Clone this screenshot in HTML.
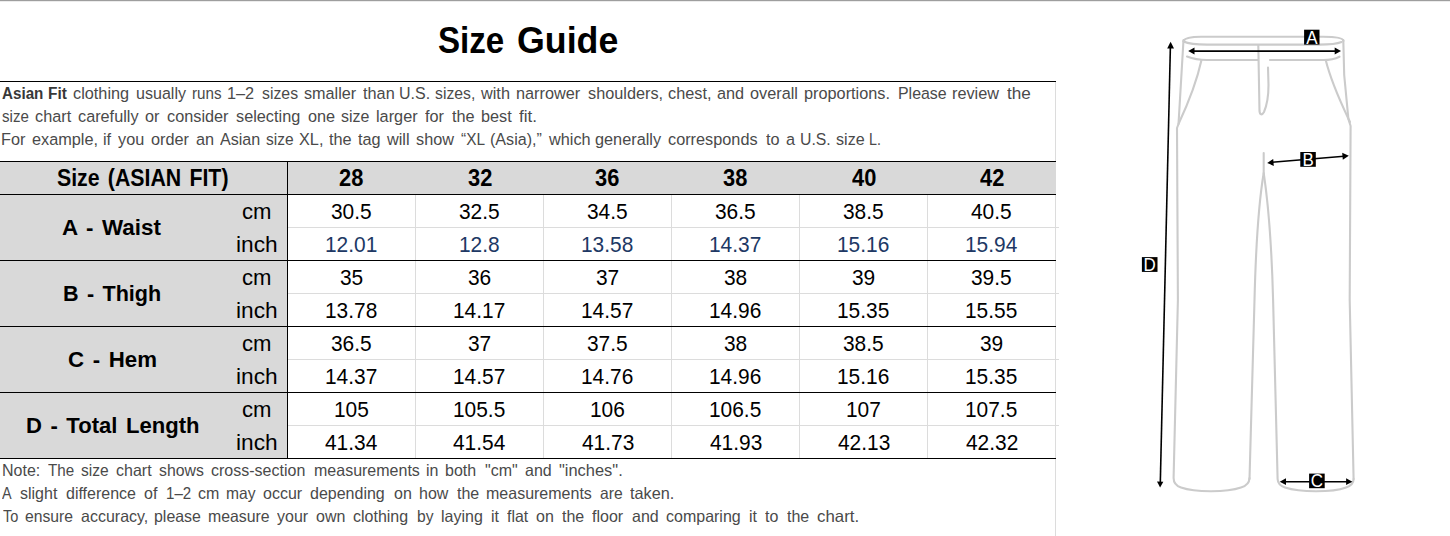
<!DOCTYPE html>
<html><head><meta charset="utf-8"><style>
html,body{margin:0;padding:0;background:#fff;width:1450px;height:536px;overflow:hidden;position:relative}
body{font-family:"Liberation Sans",sans-serif}
.t{position:absolute;white-space:nowrap;line-height:1.117;transform-origin:0 0}
</style></head><body>
<div style="position:absolute;left:0;top:0;width:1450px;height:1px;background:#9e9e9e"></div><div style="position:absolute;left:0;top:1px;width:1450px;height:1px;background:#ececec"></div>
<div style="position:absolute;left:0;top:81px;width:1056px;height:1px;background:#000"></div>
<div style="position:absolute;left:1055px;top:82px;width:1px;height:454px;background:#dcdcdc"></div>
<div style="position:absolute;left:0;top:161px;width:1056px;height:33px;background:#d9d9d9"></div>
<div style="position:absolute;left:0;top:194px;width:287px;height:264px;background:#d9d9d9"></div>
<div style="position:absolute;left:287px;top:227px;width:772px;height:1px;background:#dcdcdc"></div>
<div style="position:absolute;left:287px;top:293px;width:772px;height:1px;background:#dcdcdc"></div>
<div style="position:absolute;left:287px;top:359px;width:772px;height:1px;background:#dcdcdc"></div>
<div style="position:absolute;left:287px;top:425px;width:772px;height:1px;background:#dcdcdc"></div>
<div style="position:absolute;left:415px;top:194px;width:1px;height:264px;background:#dcdcdc"></div>
<div style="position:absolute;left:543px;top:194px;width:1px;height:264px;background:#dcdcdc"></div>
<div style="position:absolute;left:671px;top:194px;width:1px;height:264px;background:#dcdcdc"></div>
<div style="position:absolute;left:799px;top:194px;width:1px;height:264px;background:#dcdcdc"></div>
<div style="position:absolute;left:927px;top:194px;width:1px;height:264px;background:#dcdcdc"></div>
<div style="position:absolute;left:0;top:161px;width:1056px;height:1px;background:#000"></div>
<div style="position:absolute;left:0;top:194px;width:1056px;height:1px;background:#000"></div>
<div style="position:absolute;left:0;top:260px;width:1056px;height:1px;background:#000"></div>
<div style="position:absolute;left:0;top:326px;width:1056px;height:1px;background:#000"></div>
<div style="position:absolute;left:0;top:392px;width:1056px;height:1px;background:#000"></div>
<div style="position:absolute;left:0;top:458px;width:1056px;height:1px;background:#000"></div>
<div style="position:absolute;left:287px;top:161px;width:1px;height:297px;background:#000"></div>
<div class="t" style="left:437.61px;top:19.93px;font-size:37.20px;transform:scaleX(0.8905);color:#000;"><b>Size</b></div>
<div class="t" style="left:516.97px;top:19.93px;font-size:37.20px;transform:scaleX(0.9611);color:#000;"><b>Guide</b></div>
<div class="t" style="left:1.52px;top:85.20px;font-size:16.8px;font-weight:bold;transform:scaleX(0.9048);color:#383838">Asian</div>
<div class="t" style="left:47.83px;top:85.20px;font-size:16.8px;font-weight:bold;transform:scaleX(0.9211);color:#383838">Fit</div>
<div class="t" style="left:72.79px;top:85.20px;font-size:16.8px;transform:scaleX(0.9700);color:#4a4a4a">clothing</div>
<div class="t" style="left:136.28px;top:85.20px;font-size:16.8px;transform:scaleX(0.9571);color:#4a4a4a">usually</div>
<div class="t" style="left:192.26px;top:85.20px;font-size:16.8px;transform:scaleX(0.9057);color:#4a4a4a">runs</div>
<div class="t" style="left:226.99px;top:85.20px;font-size:16.8px;transform:scaleX(0.9700);color:#4a4a4a">1–2</div>
<div class="t" style="left:261.96px;top:85.20px;font-size:16.8px;transform:scaleX(0.9442);color:#4a4a4a">sizes</div>
<div class="t" style="left:303.97px;top:85.20px;font-size:16.8px;transform:scaleX(0.9647);color:#4a4a4a">smaller</div>
<div class="t" style="left:362.55px;top:85.20px;font-size:16.8px;transform:scaleX(0.9700);color:#4a4a4a">than</div>
<div class="t" style="left:399.07px;top:85.20px;font-size:16.8px;transform:scaleX(0.9524);color:#4a4a4a">U.S.</div>
<div class="t" style="left:435.08px;top:85.20px;font-size:16.8px;transform:scaleX(0.9397);color:#4a4a4a">sizes,</div>
<div class="t" style="left:480.96px;top:85.20px;font-size:16.8px;transform:scaleX(0.9700);color:#4a4a4a">with</div>
<div class="t" style="left:515.95px;top:85.20px;font-size:16.8px;transform:scaleX(0.9700);color:#4a4a4a">narrower</div>
<div class="t" style="left:587.84px;top:85.20px;font-size:16.8px;transform:scaleX(0.9700);color:#4a4a4a">shoulders,</div>
<div class="t" style="left:668.42px;top:85.20px;font-size:16.8px;transform:scaleX(0.9700);color:#4a4a4a">chest,</div>
<div class="t" style="left:716.94px;top:85.20px;font-size:16.8px;transform:scaleX(0.9700);color:#4a4a4a">and</div>
<div class="t" style="left:750.23px;top:85.20px;font-size:16.8px;transform:scaleX(0.9700);color:#4a4a4a">overall</div>
<div class="t" style="left:803.98px;top:85.20px;font-size:16.8px;transform:scaleX(0.9700);color:#4a4a4a">proportions.</div>
<div class="t" style="left:898.05px;top:85.20px;font-size:16.8px;transform:scaleX(0.9480);color:#4a4a4a">Please</div>
<div class="t" style="left:951.81px;top:85.20px;font-size:16.8px;transform:scaleX(0.9700);color:#4a4a4a">review</div>
<div class="t" style="left:1006.75px;top:85.20px;font-size:16.8px;transform:scaleX(1.0200);color:#4a4a4a">the</div>
<div class="t" style="left:1.55px;top:108.20px;font-size:16.8px;transform:scaleX(0.8984);color:#4a4a4a">size</div>
<div class="t" style="left:34.65px;top:108.20px;font-size:16.8px;transform:scaleX(0.9700);color:#4a4a4a">chart</div>
<div class="t" style="left:77.79px;top:108.20px;font-size:16.8px;transform:scaleX(0.9685);color:#4a4a4a">carefully</div>
<div class="t" style="left:145.39px;top:108.20px;font-size:16.8px;transform:scaleX(0.9700);color:#4a4a4a">or</div>
<div class="t" style="left:167.33px;top:108.20px;font-size:16.8px;transform:scaleX(0.9700);color:#4a4a4a">consider</div>
<div class="t" style="left:235.82px;top:108.20px;font-size:16.8px;transform:scaleX(0.9700);color:#4a4a4a">selecting</div>
<div class="t" style="left:307.60px;top:108.20px;font-size:16.8px;transform:scaleX(0.9700);color:#4a4a4a">one</div>
<div class="t" style="left:341.42px;top:108.20px;font-size:16.8px;transform:scaleX(0.9517);color:#4a4a4a">size</div>
<div class="t" style="left:375.66px;top:108.20px;font-size:16.8px;transform:scaleX(0.9700);color:#4a4a4a">larger</div>
<div class="t" style="left:425.22px;top:108.20px;font-size:16.8px;transform:scaleX(0.9700);color:#4a4a4a">for</div>
<div class="t" style="left:451.84px;top:108.20px;font-size:16.8px;transform:scaleX(0.9700);color:#4a4a4a">the</div>
<div class="t" style="left:481.09px;top:108.20px;font-size:16.8px;transform:scaleX(0.9664);color:#4a4a4a">best</div>
<div class="t" style="left:518.99px;top:108.20px;font-size:16.8px;transform:scaleX(1.0200);color:#4a4a4a">fit.</div>
<div class="t" style="left:1.20px;top:131.20px;font-size:16.8px;transform:scaleX(0.9700);color:#4a4a4a">For</div>
<div class="t" style="left:32.49px;top:131.20px;font-size:16.8px;transform:scaleX(0.9700);color:#4a4a4a">example,</div>
<div class="t" style="left:103.03px;top:131.20px;font-size:16.8px;transform:scaleX(0.9700);color:#4a4a4a">if</div>
<div class="t" style="left:118.48px;top:131.20px;font-size:16.8px;transform:scaleX(0.9700);color:#4a4a4a">you</div>
<div class="t" style="left:150.79px;top:131.20px;font-size:16.8px;transform:scaleX(0.9700);color:#4a4a4a">order</div>
<div class="t" style="left:196.11px;top:131.20px;font-size:16.8px;transform:scaleX(0.9700);color:#4a4a4a">an</div>
<div class="t" style="left:220.13px;top:131.20px;font-size:16.8px;transform:scaleX(0.9598);color:#4a4a4a">Asian</div>
<div class="t" style="left:265.64px;top:131.20px;font-size:16.8px;transform:scaleX(0.9269);color:#4a4a4a">size</div>
<div class="t" style="left:298.88px;top:131.20px;font-size:16.8px;transform:scaleX(0.9700);color:#4a4a4a">XL,</div>
<div class="t" style="left:328.80px;top:131.20px;font-size:16.8px;transform:scaleX(0.9700);color:#4a4a4a">the</div>
<div class="t" style="left:357.57px;top:131.20px;font-size:16.8px;transform:scaleX(0.9700);color:#4a4a4a">tag</div>
<div class="t" style="left:387.42px;top:131.20px;font-size:16.8px;transform:scaleX(0.9700);color:#4a4a4a">will</div>
<div class="t" style="left:415.67px;top:131.20px;font-size:16.8px;transform:scaleX(0.9700);color:#4a4a4a">show</div>
<div class="t" style="left:461.18px;top:131.20px;font-size:16.8px;transform:scaleX(0.9173);color:#4a4a4a">“XL</div>
<div class="t" style="left:490.42px;top:131.20px;font-size:16.8px;transform:scaleX(0.9607);color:#4a4a4a">(Asia),”</div>
<div class="t" style="left:548.53px;top:131.20px;font-size:16.8px;transform:scaleX(0.9700);color:#4a4a4a">which</div>
<div class="t" style="left:595.45px;top:131.20px;font-size:16.8px;transform:scaleX(0.9700);color:#4a4a4a">generally</div>
<div class="t" style="left:668.49px;top:131.20px;font-size:16.8px;transform:scaleX(0.9700);color:#4a4a4a">corresponds</div>
<div class="t" style="left:765.67px;top:131.20px;font-size:16.8px;transform:scaleX(0.9700);color:#4a4a4a">to</div>
<div class="t" style="left:785.85px;top:131.20px;font-size:16.8px;transform:scaleX(0.9700);color:#4a4a4a">a</div>
<div class="t" style="left:800.49px;top:131.20px;font-size:16.8px;transform:scaleX(0.9418);color:#4a4a4a">U.S.</div>
<div class="t" style="left:835.99px;top:131.20px;font-size:16.8px;transform:scaleX(0.9602);color:#4a4a4a">size</div>
<div class="t" style="left:869.46px;top:131.20px;font-size:16.8px;transform:scaleX(0.8500);color:#4a4a4a">L.</div>
<div class="t" style="left:2.12px;top:461.17px;font-size:16.5px;transform:scaleX(0.9700);color:#4a4a4a">Note:</div>
<div class="t" style="left:47.86px;top:461.17px;font-size:16.5px;transform:scaleX(0.9199);color:#4a4a4a">The</div>
<div class="t" style="left:81.11px;top:461.17px;font-size:16.5px;transform:scaleX(0.9440);color:#4a4a4a">size</div>
<div class="t" style="left:115.70px;top:461.17px;font-size:16.5px;transform:scaleX(0.9700);color:#4a4a4a">chart</div>
<div class="t" style="left:159.03px;top:461.17px;font-size:16.5px;transform:scaleX(0.9592);color:#4a4a4a">shows</div>
<div class="t" style="left:210.99px;top:461.17px;font-size:16.5px;transform:scaleX(0.9700);color:#4a4a4a">cross-section</div>
<div class="t" style="left:313.60px;top:461.17px;font-size:16.5px;transform:scaleX(0.9700);color:#4a4a4a">measurements</div>
<div class="t" style="left:426.44px;top:461.17px;font-size:16.5px;transform:scaleX(0.9700);color:#4a4a4a">in</div>
<div class="t" style="left:445.27px;top:461.17px;font-size:16.5px;transform:scaleX(0.9700);color:#4a4a4a">both</div>
<div class="t" style="left:485.05px;top:461.17px;font-size:16.5px;transform:scaleX(0.9700);color:#4a4a4a">&quot;cm&quot;</div>
<div class="t" style="left:524.94px;top:461.17px;font-size:16.5px;transform:scaleX(0.9700);color:#4a4a4a">and</div>
<div class="t" style="left:558.51px;top:461.17px;font-size:16.5px;transform:scaleX(0.9957);color:#4a4a4a">&quot;inches&quot;.</div>
<div class="t" style="left:2.20px;top:484.17px;font-size:16.5px;transform:scaleX(0.8729);color:#4a4a4a">A</div>
<div class="t" style="left:19.70px;top:484.17px;font-size:16.5px;transform:scaleX(0.9700);color:#4a4a4a">slight</div>
<div class="t" style="left:65.58px;top:484.17px;font-size:16.5px;transform:scaleX(0.9700);color:#4a4a4a">difference</div>
<div class="t" style="left:143.93px;top:484.17px;font-size:16.5px;transform:scaleX(0.9700);color:#4a4a4a">of</div>
<div class="t" style="left:165.83px;top:484.17px;font-size:16.5px;transform:scaleX(0.9147);color:#4a4a4a">1–2</div>
<div class="t" style="left:197.97px;top:484.17px;font-size:16.5px;transform:scaleX(0.9700);color:#4a4a4a">cm</div>
<div class="t" style="left:225.86px;top:484.17px;font-size:16.5px;transform:scaleX(0.9472);color:#4a4a4a">may</div>
<div class="t" style="left:263.16px;top:484.17px;font-size:16.5px;transform:scaleX(0.9700);color:#4a4a4a">occur</div>
<div class="t" style="left:310.42px;top:484.17px;font-size:16.5px;transform:scaleX(0.9700);color:#4a4a4a">depending</div>
<div class="t" style="left:394.23px;top:484.17px;font-size:16.5px;transform:scaleX(0.9700);color:#4a4a4a">on</div>
<div class="t" style="left:418.76px;top:484.17px;font-size:16.5px;transform:scaleX(0.9700);color:#4a4a4a">how</div>
<div class="t" style="left:456.79px;top:484.17px;font-size:16.5px;transform:scaleX(0.9700);color:#4a4a4a">the</div>
<div class="t" style="left:485.96px;top:484.17px;font-size:16.5px;transform:scaleX(0.9700);color:#4a4a4a">measurements</div>
<div class="t" style="left:599.53px;top:484.17px;font-size:16.5px;transform:scaleX(0.9493);color:#4a4a4a">are</div>
<div class="t" style="left:629.62px;top:484.17px;font-size:16.5px;transform:scaleX(0.9859);color:#4a4a4a">taken.</div>
<div class="t" style="left:2.51px;top:507.17px;font-size:16.5px;transform:scaleX(0.8804);color:#4a4a4a">To</div>
<div class="t" style="left:25.27px;top:507.17px;font-size:16.5px;transform:scaleX(0.9524);color:#4a4a4a">ensure</div>
<div class="t" style="left:80.57px;top:507.17px;font-size:16.5px;transform:scaleX(0.9700);color:#4a4a4a">accuracy,</div>
<div class="t" style="left:154.14px;top:507.17px;font-size:16.5px;transform:scaleX(0.9651);color:#4a4a4a">please</div>
<div class="t" style="left:207.93px;top:507.17px;font-size:16.5px;transform:scaleX(0.9605);color:#4a4a4a">measure</div>
<div class="t" style="left:277.43px;top:507.17px;font-size:16.5px;transform:scaleX(0.9700);color:#4a4a4a">your</div>
<div class="t" style="left:316.33px;top:507.17px;font-size:16.5px;transform:scaleX(0.9700);color:#4a4a4a">own</div>
<div class="t" style="left:353.32px;top:507.17px;font-size:16.5px;transform:scaleX(0.9700);color:#4a4a4a">clothing</div>
<div class="t" style="left:417.28px;top:507.17px;font-size:16.5px;transform:scaleX(0.9476);color:#4a4a4a">by</div>
<div class="t" style="left:441.37px;top:507.17px;font-size:16.5px;transform:scaleX(0.9700);color:#4a4a4a">laying</div>
<div class="t" style="left:490.92px;top:507.17px;font-size:16.5px;transform:scaleX(0.9700);color:#4a4a4a">it</div>
<div class="t" style="left:507.32px;top:507.17px;font-size:16.5px;transform:scaleX(0.9641);color:#4a4a4a">flat</div>
<div class="t" style="left:536.40px;top:507.17px;font-size:16.5px;transform:scaleX(0.9700);color:#4a4a4a">on</div>
<div class="t" style="left:561.99px;top:507.17px;font-size:16.5px;transform:scaleX(0.9700);color:#4a4a4a">the</div>
<div class="t" style="left:592.04px;top:507.17px;font-size:16.5px;transform:scaleX(0.9700);color:#4a4a4a">floor</div>
<div class="t" style="left:631.97px;top:507.17px;font-size:16.5px;transform:scaleX(0.9700);color:#4a4a4a">and</div>
<div class="t" style="left:665.75px;top:507.17px;font-size:16.5px;transform:scaleX(0.9700);color:#4a4a4a">comparing</div>
<div class="t" style="left:748.73px;top:507.17px;font-size:16.5px;transform:scaleX(0.9700);color:#4a4a4a">it</div>
<div class="t" style="left:765.38px;top:507.17px;font-size:16.5px;transform:scaleX(0.9700);color:#4a4a4a">to</div>
<div class="t" style="left:787.38px;top:507.17px;font-size:16.5px;transform:scaleX(0.9700);color:#4a4a4a">the</div>
<div class="t" style="left:816.98px;top:507.17px;font-size:16.5px;transform:scaleX(1.0200);color:#4a4a4a">chart.</div>
<div class="t" style="left:57.16px;top:165.78px;font-size:23.00px;word-spacing:2.5px;transform:scaleX(0.9260);color:#000;"><b>Size (ASIAN FIT)</b></div>
<div class="t" style="left:339.32px;top:165.78px;font-size:23.00px;transform:scaleX(0.9500);color:#000;"><b>28</b></div>
<div class="t" style="left:467.54px;top:165.78px;font-size:23.00px;transform:scaleX(0.9500);color:#000;"><b>32</b></div>
<div class="t" style="left:595.48px;top:165.78px;font-size:23.00px;transform:scaleX(0.9500);color:#000;"><b>36</b></div>
<div class="t" style="left:723.43px;top:165.78px;font-size:23.00px;transform:scaleX(0.9500);color:#000;"><b>38</b></div>
<div class="t" style="left:851.65px;top:165.78px;font-size:23.00px;transform:scaleX(0.9500);color:#000;"><b>40</b></div>
<div class="t" style="left:979.65px;top:165.78px;font-size:23.00px;transform:scaleX(0.9500);color:#000;"><b>42</b></div>
<div class="t" style="left:331.17px;top:198.58px;font-size:22.90px;transform:scaleX(0.9127);color:#000;">30.5</div>
<div class="t" style="left:459.17px;top:198.58px;font-size:22.90px;transform:scaleX(0.9127);color:#000;">32.5</div>
<div class="t" style="left:587.17px;top:198.58px;font-size:22.90px;transform:scaleX(0.9127);color:#000;">34.5</div>
<div class="t" style="left:715.17px;top:198.58px;font-size:22.90px;transform:scaleX(0.9127);color:#000;">36.5</div>
<div class="t" style="left:843.17px;top:198.58px;font-size:22.90px;transform:scaleX(0.9127);color:#000;">38.5</div>
<div class="t" style="left:971.38px;top:198.58px;font-size:22.90px;transform:scaleX(0.9127);color:#000;">40.5</div>
<div class="t" style="left:242.12px;top:199.87px;font-size:21.80px;transform:scaleX(1.0144);color:#000;">cm</div>
<div class="t" style="left:325.06px;top:231.58px;font-size:22.90px;transform:scaleX(0.9127);color:#203864;">12.01</div>
<div class="t" style="left:458.81px;top:231.58px;font-size:22.90px;transform:scaleX(0.9127);color:#203864;">12.8</div>
<div class="t" style="left:581.01px;top:231.58px;font-size:22.90px;transform:scaleX(0.9127);color:#203864;">13.58</div>
<div class="t" style="left:709.11px;top:231.58px;font-size:22.90px;transform:scaleX(0.9127);color:#203864;">14.37</div>
<div class="t" style="left:837.01px;top:231.58px;font-size:22.90px;transform:scaleX(0.9127);color:#203864;">15.16</div>
<div class="t" style="left:964.90px;top:231.58px;font-size:22.90px;transform:scaleX(0.9127);color:#203864;">15.94</div>
<div class="t" style="left:235.52px;top:231.97px;font-size:22.80px;transform:scaleX(0.9955);color:#000;">inch</div>
<div class="t" style="left:339.90px;top:264.58px;font-size:22.90px;transform:scaleX(0.9127);color:#000;">35</div>
<div class="t" style="left:467.90px;top:264.58px;font-size:22.90px;transform:scaleX(0.9127);color:#000;">36</div>
<div class="t" style="left:596.00px;top:264.58px;font-size:22.90px;transform:scaleX(0.9127);color:#000;">37</div>
<div class="t" style="left:723.90px;top:264.58px;font-size:22.90px;transform:scaleX(0.9127);color:#000;">38</div>
<div class="t" style="left:851.95px;top:264.58px;font-size:22.90px;transform:scaleX(0.9127);color:#000;">39</div>
<div class="t" style="left:971.17px;top:264.58px;font-size:22.90px;transform:scaleX(0.9127);color:#000;">39.5</div>
<div class="t" style="left:242.12px;top:265.87px;font-size:21.80px;transform:scaleX(1.0144);color:#000;">cm</div>
<div class="t" style="left:325.01px;top:297.58px;font-size:22.90px;transform:scaleX(0.9127);color:#000;">13.78</div>
<div class="t" style="left:453.11px;top:297.58px;font-size:22.90px;transform:scaleX(0.9127);color:#000;">14.17</div>
<div class="t" style="left:581.11px;top:297.58px;font-size:22.90px;transform:scaleX(0.9127);color:#000;">14.57</div>
<div class="t" style="left:709.01px;top:297.58px;font-size:22.90px;transform:scaleX(0.9127);color:#000;">14.96</div>
<div class="t" style="left:837.01px;top:297.58px;font-size:22.90px;transform:scaleX(0.9127);color:#000;">15.35</div>
<div class="t" style="left:965.01px;top:297.58px;font-size:22.90px;transform:scaleX(0.9127);color:#000;">15.55</div>
<div class="t" style="left:235.52px;top:297.97px;font-size:22.80px;transform:scaleX(0.9955);color:#000;">inch</div>
<div class="t" style="left:331.17px;top:330.58px;font-size:22.90px;transform:scaleX(0.9127);color:#000;">36.5</div>
<div class="t" style="left:468.00px;top:330.58px;font-size:22.90px;transform:scaleX(0.9127);color:#000;">37</div>
<div class="t" style="left:587.17px;top:330.58px;font-size:22.90px;transform:scaleX(0.9127);color:#000;">37.5</div>
<div class="t" style="left:723.90px;top:330.58px;font-size:22.90px;transform:scaleX(0.9127);color:#000;">38</div>
<div class="t" style="left:843.17px;top:330.58px;font-size:22.90px;transform:scaleX(0.9127);color:#000;">38.5</div>
<div class="t" style="left:979.95px;top:330.58px;font-size:22.90px;transform:scaleX(0.9127);color:#000;">39</div>
<div class="t" style="left:242.12px;top:331.87px;font-size:21.80px;transform:scaleX(1.0144);color:#000;">cm</div>
<div class="t" style="left:325.11px;top:363.58px;font-size:22.90px;transform:scaleX(0.9127);color:#000;">14.37</div>
<div class="t" style="left:453.11px;top:363.58px;font-size:22.90px;transform:scaleX(0.9127);color:#000;">14.57</div>
<div class="t" style="left:581.01px;top:363.58px;font-size:22.90px;transform:scaleX(0.9127);color:#000;">14.76</div>
<div class="t" style="left:709.01px;top:363.58px;font-size:22.90px;transform:scaleX(0.9127);color:#000;">14.96</div>
<div class="t" style="left:837.01px;top:363.58px;font-size:22.90px;transform:scaleX(0.9127);color:#000;">15.16</div>
<div class="t" style="left:965.01px;top:363.58px;font-size:22.90px;transform:scaleX(0.9127);color:#000;">15.35</div>
<div class="t" style="left:235.52px;top:363.97px;font-size:22.80px;transform:scaleX(0.9955);color:#000;">inch</div>
<div class="t" style="left:333.73px;top:396.58px;font-size:22.90px;transform:scaleX(0.9127);color:#000;">105</div>
<div class="t" style="left:453.01px;top:396.58px;font-size:22.90px;transform:scaleX(0.9127);color:#000;">105.5</div>
<div class="t" style="left:589.73px;top:396.58px;font-size:22.90px;transform:scaleX(0.9127);color:#000;">106</div>
<div class="t" style="left:709.01px;top:396.58px;font-size:22.90px;transform:scaleX(0.9127);color:#000;">106.5</div>
<div class="t" style="left:845.84px;top:396.58px;font-size:22.90px;transform:scaleX(0.9127);color:#000;">107</div>
<div class="t" style="left:965.01px;top:396.58px;font-size:22.90px;transform:scaleX(0.9127);color:#000;">107.5</div>
<div class="t" style="left:242.12px;top:397.87px;font-size:21.80px;transform:scaleX(1.0144);color:#000;">cm</div>
<div class="t" style="left:325.48px;top:429.58px;font-size:22.90px;transform:scaleX(0.9127);color:#000;">41.34</div>
<div class="t" style="left:453.48px;top:429.58px;font-size:22.90px;transform:scaleX(0.9127);color:#000;">41.54</div>
<div class="t" style="left:581.58px;top:429.58px;font-size:22.90px;transform:scaleX(0.9127);color:#000;">41.73</div>
<div class="t" style="left:709.58px;top:429.58px;font-size:22.90px;transform:scaleX(0.9127);color:#000;">41.93</div>
<div class="t" style="left:837.58px;top:429.58px;font-size:22.90px;transform:scaleX(0.9127);color:#000;">42.13</div>
<div class="t" style="left:965.69px;top:429.58px;font-size:22.90px;transform:scaleX(0.9127);color:#000;">42.32</div>
<div class="t" style="left:235.52px;top:429.97px;font-size:22.80px;transform:scaleX(0.9955);color:#000;">inch</div>
<div class="t" style="left:62.44px;top:214.97px;font-size:22.80px;word-spacing:2.5px;transform:scaleX(0.9804);color:#000;"><b>A - Waist</b></div>
<div class="t" style="left:63.10px;top:280.97px;font-size:22.80px;word-spacing:2.5px;transform:scaleX(0.9467);color:#000;"><b>B - Thigh</b></div>
<div class="t" style="left:67.61px;top:346.97px;font-size:22.80px;word-spacing:2.5px;transform:scaleX(0.9763);color:#000;"><b>C - Hem</b></div>
<div class="t" style="left:26.07px;top:412.97px;font-size:22.80px;word-spacing:2.5px;transform:scaleX(0.9674);color:#000;"><b>D - Total Length</b></div>
<svg style="position:absolute;left:0;top:0" width="1450" height="536" viewBox="0 0 1450 536">
<g fill="none" stroke="#cbcbcb" stroke-width="2.1" stroke-linecap="round" stroke-linejoin="round">
<path d="M1183.5,41 C1185,37.5 1192,36.8 1201,36.8 L1323,36.8 C1335,36.8 1343,38 1343.5,41"/>
<path d="M1183.5,41.5 C1188,43.5 1198,44.6 1207,44.6 L1319,44.6 C1330,44.6 1338,43.5 1341.5,42"/>
<path d="M1187,56.5 C1192,58.5 1199,60 1207,60 L1258,60 M1270,60 L1323,60 C1330,60 1336,58.5 1339.5,56.7"/>
<path d="M1183.5,40 L1178.5,124 L1177,128 L1177.9,300 L1173.6,478 Q1173.6,485 1181,487.5 C1195,492.3 1226,492.6 1241,487.5 Q1249.3,485 1249.5,478"/>
<path d="M1263.7,153 L1263.7,173 C1260,195 1256,240 1254.5,300 L1249.5,479"/>
<path d="M1263.7,173 C1267,195 1271.5,240 1273.1,300 L1277.6,479 Q1277.8,485 1285,487.5 C1300,492.5 1332,492.6 1346,487.5 Q1353.6,485 1353.6,479"/>
<path d="M1343.3,40 L1344.2,75 L1348.4,119 L1350.6,126 L1349.7,300 L1353.6,479"/>
<path d="M1201.5,60 C1196,85 1186,108 1178.5,124"/>
<path d="M1325.7,60 C1332,85 1342,105 1350,122"/>
<path d="M1258.3,45 L1259.5,111 C1260,115 1262,115.5 1264,112 C1267,105 1268.5,95 1268.5,85 L1268,67.5"/>
</g>
<g stroke="#000" stroke-width="1.6" fill="none">
<path d="M1193,51.1 L1336,51.1"/>
<path d="M1272,162.3 L1344,156.3"/>
<path d="M1285,481.7 L1347,481.7"/>
<path d="M1170.35,48 L1160.3,483"/>
</g>
<g fill="#000">
<path d="M1188.2,51.1 L1194.5,47.6 L1194.5,54.6 Z"/>
<path d="M1341,51.1 L1334.7,47.6 L1334.7,54.6 Z"/>
<path d="M1267.2,162.9 L1273.2,159 L1273.8,165.9 Z"/>
<path d="M1348.8,155.7 L1342.2,152.7 L1342.8,159.7 Z"/>
<path d="M1279.7,481.7 L1286,478.3 L1286,485.1 Z"/>
<path d="M1352.4,481.7 L1346.1,478.3 L1346.1,485.1 Z"/>
<path d="M1170.6,41.8 L1167.2,48.5 L1174,48.6 Z"/>
<path d="M1160.1,487.6 L1157,481.6 L1163.3,481.7 Z"/>
<rect x="1304.1" y="29.7" width="15.4" height="14.9"/>
<rect x="1300.3" y="152" width="15.5" height="14.8"/>
<rect x="1309.1" y="473.6" width="15.6" height="14.6"/>
<rect x="1141.9" y="257.1" width="15.6" height="14.8"/>
</g>
<g fill="#fff" font-family="'Liberation Sans', sans-serif" font-size="17.5" text-anchor="middle">
<text transform="translate(1311.8,43.6) scale(0.97,1)">A</text>
<text transform="translate(1308.1,165.6) scale(0.97,1)">B</text>
<text transform="translate(1316.9,487.3) scale(0.97,1)">C</text>
<text transform="translate(1149.7,270.6) scale(0.97,1)">D</text>
</g>
</svg>

</body></html>
